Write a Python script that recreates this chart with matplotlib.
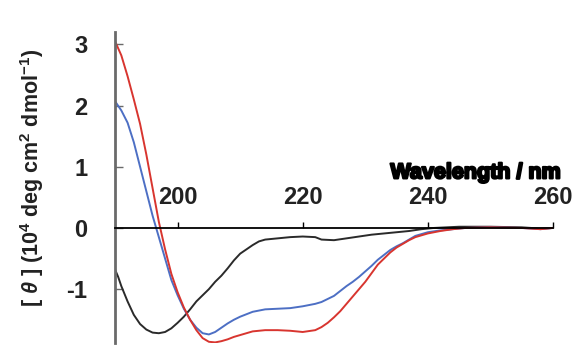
import numpy as np
import matplotlib
matplotlib.use('Agg')
from matplotlib import pyplot as plt
import matplotlib.patheffects as pe

plt.rcParams['font.family'] = ['Liberation Sans', 'DejaVu Sans']
plt.rcParams['mathtext.fontset'] = 'custom'
plt.rcParams['mathtext.rm'] = 'Liberation Sans:bold'
plt.rcParams['mathtext.it'] = 'Liberation Sans:italic:bold'

# wavelength (nm) and ellipticity (10^4 deg cm2 dmol-1)
wl_red = [190, 191, 192, 193, 194, 195, 196, 197, 198, 199, 200, 201, 202, 203, 204, 205, 206, 207,
          208, 209, 210, 212, 214, 216, 218, 220, 222, 223, 224, 225, 226, 227, 228, 229, 230, 231,
          232, 233, 234, 235, 236, 237, 238, 239, 240, 242, 244, 246, 250, 255, 258, 260]
theta_red = [3.05, 2.82, 2.48, 2.1, 1.7, 1.2, 0.65, 0.1, -0.35, -0.75, -1.05, -1.3, -1.5, -1.67,
             -1.8, -1.86, -1.87, -1.85, -1.82, -1.78, -1.75, -1.69, -1.67, -1.67, -1.68, -1.7,
             -1.67, -1.62, -1.55, -1.46, -1.36, -1.24, -1.12, -1.0, -0.88, -0.74, -0.6, -0.5,
             -0.4, -0.32, -0.26, -0.2, -0.15, -0.12, -0.09, -0.05, -0.02, 0.0, 0.01, 0.0, -0.02, 0.0]

wl_blue = wl_red
theta_blue = [2.07, 1.92, 1.72, 1.4, 1.0, 0.6, 0.2, -0.15, -0.5, -0.85, -1.1, -1.32, -1.5, -1.63,
              -1.72, -1.74, -1.7, -1.63, -1.56, -1.5, -1.45, -1.37, -1.33, -1.32, -1.31, -1.28,
              -1.24, -1.21, -1.16, -1.11, -1.03, -0.95, -0.88, -0.8, -0.71, -0.62, -0.52, -0.44,
              -0.36, -0.3, -0.25, -0.19, -0.13, -0.1, -0.07, -0.04, -0.02, 0.0, 0.01, 0.0, -0.02, 0.0]

wl_black = [190, 190.5, 191, 192, 193, 194, 195, 196, 197, 198, 199, 200, 201, 202, 203, 204, 205,
            206, 207, 208, 209, 210, 211, 212, 213, 214, 216, 218, 220, 222, 223, 225, 227, 229,
            231, 233, 235, 237, 239, 241, 245, 250, 255, 258, 260]
theta_black = [-0.68, -0.8, -0.95, -1.2, -1.42, -1.57, -1.66, -1.71, -1.72, -1.7, -1.64, -1.55,
               -1.45, -1.33, -1.2, -1.1, -1.0, -0.88, -0.78, -0.66, -0.53, -0.42, -0.35, -0.28,
               -0.22, -0.19, -0.17, -0.15, -0.14, -0.15, -0.19, -0.2, -0.17, -0.14, -0.11, -0.09,
               -0.07, -0.05, -0.02, 0.0, 0.02, 0.02, 0.01, -0.01, 0.0]

xticks = [200, 220, 240, 260]
yticks = [3, 2, 1, 0, -1]

fig = plt.figure(figsize=(5.87, 3.47), dpi=100)
ax = fig.add_axes([0.196, 0.0115, 0.746, 0.896])

ax.plot(wl_black, theta_black, color='#2a2a2a', lw=1.4)
ax.plot(wl_blue, theta_blue, color='#4d6fc4', lw=1.4)
ax.plot(wl_red, theta_red, color='#d8352f', lw=1.4)

ax.set_xlim(190, 260)
ax.set_ylim(-1.88, 3.2)

ax.spines['right'].set_visible(False)
ax.spines['bottom'].set_visible(False)
ax.spines['top'].set_position(('data', 0))
ax.spines['top'].set_linewidth(1.3)
ax.spines['left'].set_color('#6a6a6a')
ax.spines['left'].set_linewidth(2)

ax.xaxis.tick_top()
ax.set_xticks(xticks)
ax.set_xticklabels([str(t) for t in xticks])
ax.tick_params(axis='x', direction='out', length=4, width=1, pad=10, labelsize=17)
ax.set_yticks(yticks)
ax.set_yticklabels([str(t) for t in yticks])
ax.tick_params(axis='y', direction='in', length=6, width=1, pad=20, labelsize=17,
               color='#6a6a6a')
for lab in ax.get_xticklabels() + ax.get_yticklabels():
    lab.set_fontweight('bold')
    lab.set_color('#222222')

ax.text(261.3, 0.9, 'Wavelength / nm', ha='right', va='center', fontsize=15.5,
        fontweight='bold', clip_on=False,
        path_effects=[pe.withStroke(linewidth=1.6, foreground='black')])

fig.text(32 / 587, 1 - 178 / 347,
         r'[ $\it{\theta}$ ] (10$^{4}$ deg cm$^{2}$ dmol$^{-1}$)',
         rotation=90, ha='center', va='center', fontsize=15.5, fontweight='bold',
         color='#222222')

fig.savefig('out.png', dpi=100)
